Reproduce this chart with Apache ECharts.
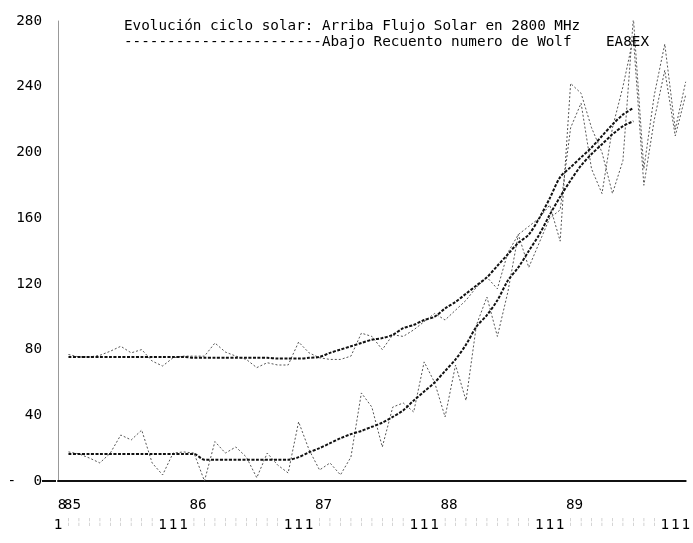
<!DOCTYPE html>
<html>
<head>
<meta charset="utf-8">
<script src="https://cdn.jsdelivr.net/npm/echarts@6/dist/echarts.min.js"></script>
<style>
  html, body { margin: 0; padding: 0; background: #fff; }
  #chart { width: 693px; height: 543px; }
</style>
</head>
<body>
<div id="chart"></div>
<script>
  // meses dic-84 .. dic-89
  var categories = [];
  var monthNum = [];
  for (var y = 84; y <= 89; y++) {
    for (var m = 1; m <= 12; m++) {
      if (y === 84 && m < 12) continue;
      categories.push(m + '/' + y);
      monthNum.push(m);
    }
  }
  var yearLabels = { 0: '8', 1: '85', 13: '86', 25: '87', 37: '88', 49: '89' };

  // flujo solar 2800 MHz mensual
  var fluxMonthly = [null,
    77, 75.5, 75.5, 76.5, 79, 82, 78, 80, 73, 70, 75, 76,
    76, 76, 84, 78.5, 76, 74, 69, 72, 70.6, 70.6, 84.6, 78,
    75, 74, 74, 76, 90, 88, 80, 89, 88, 92, 97, 102,
    98, 104, 110, 118, 124, 117, 139, 150, 155, 160, 168, 146,
    242, 236, 215, 200, 175, 195, 282, 190, 235, 266, 214, 243];
  // flujo solar suavizado
  var fluxSmooth = [null,
    75.5, 75.5, 75.5, 75.5, 75.5, 75.5, 75.5, 75.5, 75.5, 75.5, 75.5, 75.5,
    75, 75, 75, 75, 75, 75, 75, 75, 74.5, 74.5, 74.5, 75,
    75.5, 78, 80, 82, 84, 86, 87, 89, 93, 95, 98, 100,
    105, 109, 114, 119, 124, 131, 138, 145, 150, 160, 172, 185,
    191, 197, 203, 210, 217, 223, 227];
  // numero de Wolf mensual
  var wolfMonthly = [null,
    17.7, 16.5, 14, 11, 17, 28, 25, 31, 11, 3.7, 17, 17.7,
    17, 0, 24, 17, 20.7, 14.6, 2, 17, 9.7, 4.9, 36, 19,
    6.7, 11, 3.7, 14.6, 53.6, 45, 20.7, 45, 47.5, 42, 72.5, 60,
    39, 70.6, 49, 95, 112, 88, 115, 150, 130, 145, 160, 165,
    215, 230, 190, 175, 215, 240, 270, 180, 220, 250, 210, 235];
  // numero de Wolf suavizado
  var wolfSmooth = [null,
    16.4, 16.4, 16.4, 16.4, 16.4, 16.4, 16.4, 16.4, 16.4, 16.4, 16.4, 16.4,
    16.4, 13, 13, 13, 13, 13, 13, 13, 13, 13, 14.5, 17.5,
    20, 23, 26, 28.5, 30.5, 33, 35.5, 39, 43, 49, 54.5, 60,
    67, 74, 83, 94, 101, 110, 122, 130, 140, 150, 162, 173,
    183, 192, 199, 205, 211, 216, 219];

  var FONT = '"DejaVu Sans Mono", "Liberation Mono", monospace';

  var myChart = echarts.init(document.getElementById('chart'));
  var option = {
    animation: false,
    backgroundColor: '#fff',
    title: {
      text: 'Evolución ciclo solar: Arriba Flujo Solar en 2800 MHz\n' +
            '-----------------------Abajo Recuento numero de Wolf    EA8EX',
      left: 119,
      top: 13,
      textStyle: {
        fontFamily: FONT,
        fontSize: 14.3,
        fontWeight: 'normal',
        color: '#000',
        lineHeight: 16
      }
    },
    grid: { left: 58, right: 2, top: 21, bottom: 62 },
    xAxis: [
      {
        type: 'category',
        data: categories,
        boundaryGap: false,
        axisLine: { lineStyle: { color: '#111', width: 2 } },
        axisTick: { show: false },
        axisLabel: {
          interval: 0,
          margin: 17,
          showMinLabel: true,
          fontFamily: FONT,
          fontSize: 14.3,
          color: '#000',
          padding: [0, 0, 0, 8],
          formatter: function (v, idx) { return yearLabels[idx] || ''; }
        },
        splitLine: { show: false }
      },
      {
        type: 'category',
        data: categories,
        boundaryGap: false,
        position: 'bottom',
        axisLine: { show: false },
        axisTick: { show: false },
        axisLabel: {
          interval: 0,
          margin: 37,
          showMinLabel: true,
          fontFamily: FONT,
          fontSize: 14.3,
          color: '#000',
          formatter: function (v, idx) {
            var m = monthNum[idx];
            if (m >= 10) return '1';
            return '{f|¦}';
          },
          rich: { f: { fontSize: 8, color: '#c4c4c4' } }
        },
        splitLine: { show: false }
      }
    ],
    yAxis: {
      type: 'value',
      min: 0,
      max: 280,
      interval: 40,
      axisLine: { show: true, lineStyle: { color: '#999', width: 1 } },
      axisTick: { show: false },
      splitLine: { show: false },
      axisLabel: {
        margin: 2,
        showMinLabel: true,
        fontFamily: FONT,
        fontSize: 14.3,
        color: '#000',
        formatter: function (v) {
          return v === 0 ? '{t|-  0}{l|\u00a0}' : '{t|' + v + '}{s|\u00a0}';
        },
        rich: {
          t: { fontFamily: FONT, fontSize: 14.3, color: '#000' },
          s: { width: 14 },
          l: { width: 14, height: 2, lineHeight: 2, fontSize: 2, backgroundColor: '#111', verticalAlign: 'middle' }
        }
      }
    },
    series: [
      {
        name: 'Flujo mensual', type: 'line', data: fluxMonthly,
        showSymbol: false,
        lineStyle: { color: '#555', width: 1, type: [2, 2] }
      },
      {
        name: 'Wolf mensual', type: 'line', data: wolfMonthly,
        showSymbol: false,
        lineStyle: { color: '#555', width: 1, type: [2, 2] }
      },
      {
        name: 'Flujo suavizado', type: 'line', data: fluxSmooth,
        showSymbol: false, smooth: 0.3,
        lineStyle: { color: '#111', width: 2, type: [3, 1.5] }
      },
      {
        name: 'Wolf suavizado', type: 'line', data: wolfSmooth,
        showSymbol: false, smooth: 0.3,
        lineStyle: { color: '#111', width: 2, type: [3, 1.5] }
      }
    ]
  };
  myChart.setOption(option);
</script>
</body>
</html>
